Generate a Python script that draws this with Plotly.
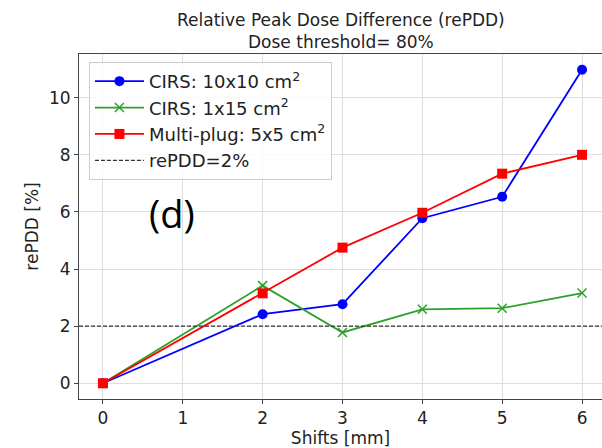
import plotly.graph_objects as go

shifts = [0, 2, 3, 4, 5, 6]
cirs_10x10 = [0.0, 2.42, 2.77, 5.78, 6.53, 10.98]
cirs_1x15 = [0.0, 3.42, 1.78, 2.59, 2.63, 3.16]
multiplug_5x5 = [0.0, 3.15, 4.75, 5.97, 7.34, 8.0]
threshold = 2.0
x_ticks = [0, 1, 2, 3, 4, 5, 6]
y_ticks = [0, 2, 4, 6, 8, 10]

FONT = "DejaVu Sans"
fig = go.Figure()
fig.add_trace(go.Scatter(x=shifts, y=cirs_10x10, mode="lines+markers", name="CIRS: 10x10 cm<sup>2</sup>",
                         line=dict(color="blue", width=1.8), marker=dict(symbol="circle", size=10, color="blue")))
fig.add_trace(go.Scatter(x=shifts, y=cirs_1x15, mode="lines+markers", name="CIRS: 1x15 cm<sup>2</sup>",
                         line=dict(color="#2ca02c", width=1.8),
                         marker=dict(symbol="x-thin", size=9, color="#2ca02c", line=dict(color="#2ca02c", width=1.5))))
fig.add_trace(go.Scatter(x=shifts, y=multiplug_5x5, mode="lines+markers", name="Multi-plug: 5x5 cm<sup>2</sup>",
                         line=dict(color="red", width=1.8), marker=dict(symbol="square", size=10, color="red")))
fig.add_trace(go.Scatter(x=[-0.3, 6.4], y=[threshold, threshold], mode="lines", name="rePDD=2%",
                         line=dict(color="#333", width=1.2, dash="4px,2px")))

fig.add_annotation(x=0.87, y=5.95, text="(d)", showarrow=False,
                   font=dict(family="Open Sans", size=38, color="black"))
fig.add_annotation(xref="paper", yref="paper", x=0.5, y=1.068, yanchor="middle", xanchor="center",
                   text="Relative Peak Dose Difference (rePDD)<br>Dose threshold= 80%", showarrow=False,
                   font=dict(family=FONT, size=17, color="#222"))

fig.update_layout(
    width=602, height=448,
    margin=dict(l=79, r=0, t=54, b=49),
    paper_bgcolor="white", plot_bgcolor="white",
    font=dict(family=FONT, size=17, color="#222"),
    showlegend=True,
    legend=dict(x=0.019, y=0.977, xanchor="left", yanchor="top", bgcolor="rgba(255,255,255,0.85)",
                bordercolor="#ccc", borderwidth=1, font=dict(size=18, color="#222"), tracegroupgap=0,
                itemwidth=49),
    xaxis=dict(range=[-0.3, 6.25], tickvals=x_ticks, showgrid=True, gridcolor="#ddd", zeroline=False,
               showline=True, linecolor="#444", mirror=True, ticks="outside", ticklen=4, tickcolor="#444",
               title=dict(text="Shifts [mm]", font=dict(size=17), standoff=2), tickfont=dict(size=17)),
    yaxis=dict(range=[-0.55, 11.53], tickvals=y_ticks, showgrid=True, gridcolor="#ddd", zeroline=False,
               showline=True, linecolor="#444", mirror=False, ticks="outside", ticklen=4, tickcolor="#444",
               title=dict(text="rePDD [%]", font=dict(size=17), standoff=6), tickfont=dict(size=17)),
)
fig.write_html("out.html", config={"displayModeBar": False},
               post_script="document.body.style.margin='0px';")
